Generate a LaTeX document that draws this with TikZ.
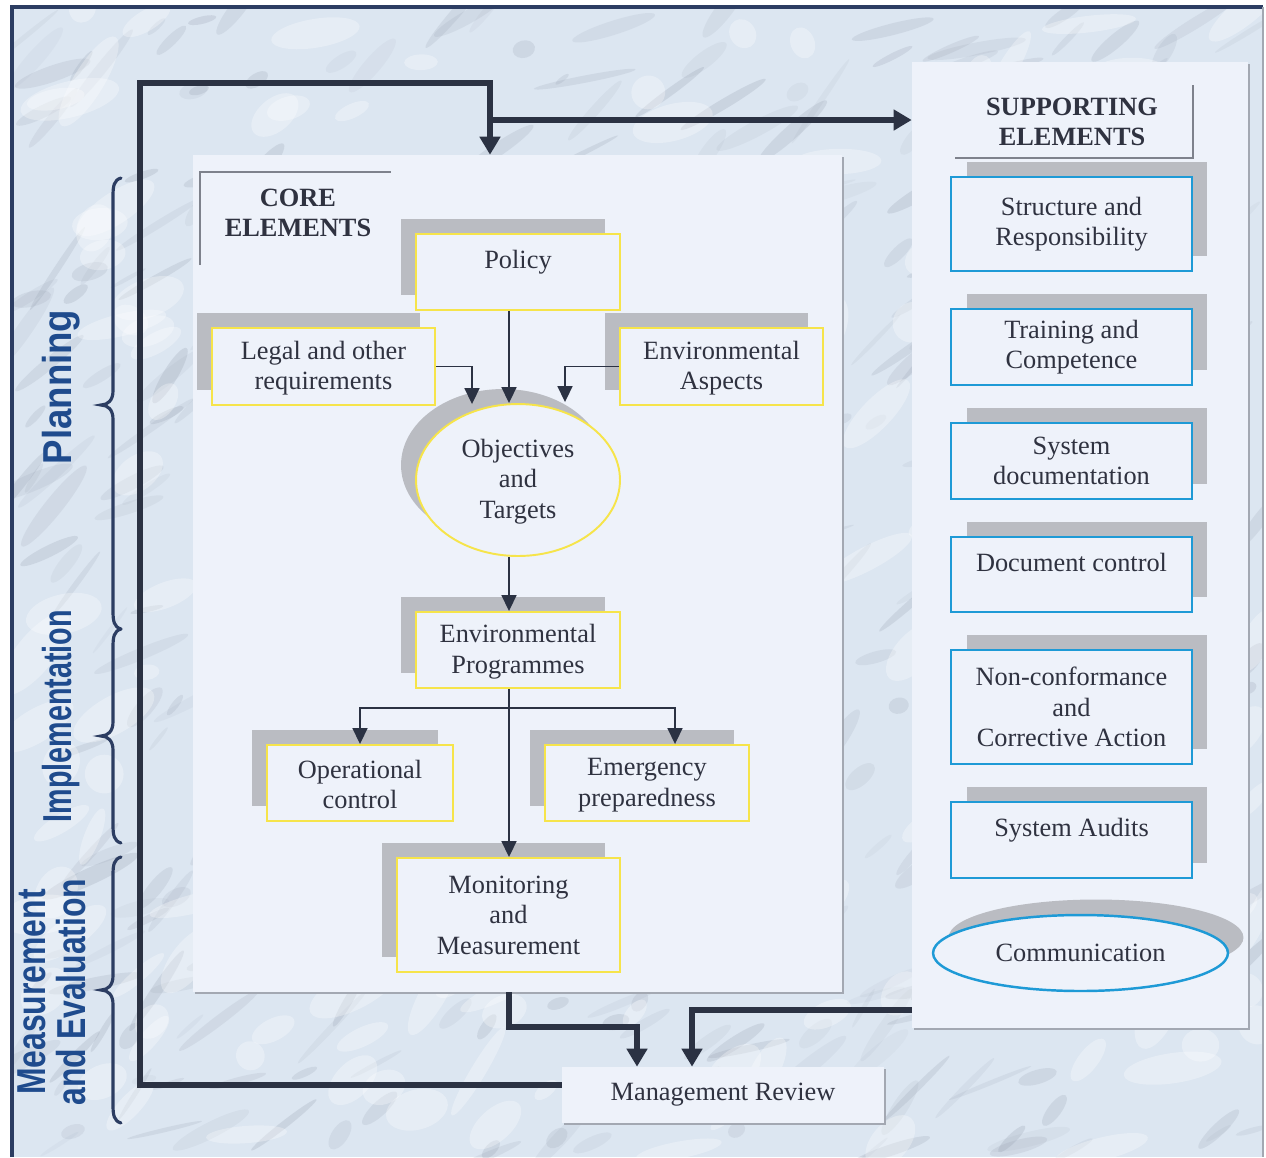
\documentclass[tikz,border=0pt]{standalone}
\usepackage{fontspec}
\setmainfont{Liberation Serif}
\newfontfamily\labelsans{Liberation Sans}
\usetikzlibrary{arrows.meta,shapes.geometric,shadows}

\definecolor{marble}{HTML}{DCE6F1}
\definecolor{streak}{HTML}{8C95A6}
\definecolor{panelfill}{HTML}{EEF2FA}
\definecolor{panelshade}{HTML}{A3A8B2}
\definecolor{speckle}{HTML}{BABCC2}
\definecolor{linedark}{HTML}{2B3243}
\definecolor{framenavy}{HTML}{2C3D62}
\definecolor{boxyellow}{HTML}{F6E44A}
\definecolor{boxblue}{HTML}{1E9AD6}
\definecolor{textgray}{HTML}{2F3240}
\definecolor{phaseblue}{HTML}{1F4B8D}
\definecolor{headline}{HTML}{7E828C}

\newcommand\diagfont{\fontsize{15}{17.3}\selectfont}
\newcommand\phasefont{\labelsans\bfseries\fontsize{23}{20}\selectfont}

\tikzset{
  panel/.style={rectangle, draw=none, fill=panelfill, inner sep=0pt,
    general shadow={fill=panelshade, shadow xshift=0.045cm, shadow yshift=-0.045cm}},
  corebox/.style={rectangle, draw=boxyellow, line width=1.1pt, fill=panelfill,
    text=textgray, align=center, inner sep=0pt, font=\diagfont,
    general shadow={fill=speckle, shadow xshift=-0.3cm, shadow yshift=0.3cm}},
  coreoval/.style={corebox, ellipse},
  supbox/.style={rectangle, draw=boxblue, line width=1.4pt, fill=panelfill,
    text=textgray, align=center, inner sep=0pt, font=\diagfont,
    general shadow={fill=speckle, shadow xshift=0.31cm, shadow yshift=0.31cm}},
  supoval/.style={supbox, ellipse},
  headtext/.style={text=textgray, align=center, font=\diagfont\bfseries},
  headrule/.style={draw=headline, line width=1pt},
  phase/.style={text=phaseblue, font=\phasefont, rotate=90, inner sep=0pt},
  bracepen/.style={draw=framenavy, line width=1.8pt, line cap=round},
  arr/.style={draw=linedark, line width=1pt, -{Triangle[length=0.32cm,width=0.3cm]}},
  flow/.style={draw=linedark, line width=3pt, -{Triangle[length=0.36cm,width=0.4cm]}}
}

\begin{document}
\begin{tikzpicture}[x=0.02cm, y=-0.02cm]
\useasboundingbox (0,0) rectangle (1266,1157);
\fill[white] (0,0) rectangle (1266,1157);

% marbled backdrop: soft grey veins and pale patches
\begin{scope}
  \clip (12,8) rectangle (1263,1157);
  \fill[marble] (12,8) rectangle (1263,1157);
  \pgfmathsetseed{4711}
  \foreach \i in {1,...,420}{
    \pgfmathsetmacro{\mx}{12+1250*rnd}
    \pgfmathsetmacro{\my}{8+1150*rnd}
    \pgfmathsetmacro{\ma}{10+50*rnd}
    \pgfmathsetmacro{\ml}{8+45*rnd}
    \pgfmathsetmacro{\mw}{2+7*rnd}
    \pgfmathsetmacro{\mo}{0.06+0.16*rnd}
    \fill[streak, opacity=\mo, rotate around={\ma:(\mx,\my)}]
      (\mx,\my) ellipse [x radius=\ml, y radius=\mw];
  }
  \foreach \i in {1,...,220}{
    \pgfmathsetmacro{\mx}{12+1250*rnd}
    \pgfmathsetmacro{\my}{8+1150*rnd}
    \pgfmathsetmacro{\ma}{0+70*rnd}
    \pgfmathsetmacro{\ml}{12+40*rnd}
    \pgfmathsetmacro{\mw}{6+14*rnd}
    \fill[white, opacity=0.3, rotate around={\ma:(\mx,\my)}]
      (\mx,\my) ellipse [x radius=\ml, y radius=\mw];
  }
\end{scope}

% outer frame
\draw[framenavy, line width=2.3pt] (12,1157) -- (12,7) -- (1263,7);
\draw[panelshade, line width=0.8pt] (1263,7) -- (1263,1157);

% panels
\node[panel, minimum width=12.98cm, minimum height=16.74cm] (core) at (517.5,573.5) {};
\node[panel, minimum width=6.72cm, minimum height=19.32cm] (support) at (1080,545) {};
\node[panel, minimum width=6.44cm, minimum height=1.12cm, text=textgray, font=\diagfont]
  (mgmt) at (723,1095) {Management Review};

% panel headings
\draw[headrule] (200,265) -- (200,172) -- (391,172);
\node[headtext] (corehead) at (298,213) {CORE\\ELEMENTS};
\draw[headrule] (1193,85) -- (1193,158) -- (955,158);
\node[headtext] (suphead) at (1072,122) {SUPPORTING\\ELEMENTS};

% core elements
\node[corebox, minimum width=4.08cm, minimum height=1.52cm] (policy) at (518,272)
  {\raisebox{2pt}[0pt][0pt]{Policy}};
\node[corebox, minimum width=4.46cm, minimum height=1.54cm] (legal) at (323.5,366.5)
  {\strut Legal and other\\requirements};
\node[corebox, minimum width=4.06cm, minimum height=1.54cm] (aspects) at (721.5,366.5)
  {\strut Environmental\\Aspects};
\node[coreoval, minimum width=4.08cm, minimum height=3.04cm] (objectives) at (518,480)
  {\strut Objectives\\and\\Targets};
\node[corebox, minimum width=4.08cm, minimum height=1.52cm] (programmes) at (518,650)
  {\strut Environmental\\Programmes};
\node[corebox, minimum width=3.72cm, minimum height=1.52cm] (operational) at (360,783)
  {\strut Operational\\control};
\node[corebox, minimum width=4.08cm, minimum height=1.52cm] (emergency) at (647,783)
  {\strut Emergency\\preparedness};
\node[corebox, minimum width=4.46cm, minimum height=2.28cm] (monitoring) at (508.5,915)
  {Monitoring\\and\\Measurement};

% supporting elements
\node[supbox, minimum width=4.82cm, minimum height=1.88cm] (structure) at (1071.5,224)
  {Structure and\\Responsibility};
\node[supbox, minimum width=4.82cm, minimum height=1.52cm] (training) at (1071.5,347)
  {Training and\\Competence};
\node[supbox, minimum width=4.82cm, minimum height=1.52cm] (sysdoc) at (1071.5,461)
  {System\\documentation};
\node[supbox, minimum width=4.82cm, minimum height=1.5cm] (doccontrol) at (1071.5,574.5)
  {\raisebox{2pt}[0pt][0pt]{Document control}};
\node[supbox, minimum width=4.82cm, minimum height=2.28cm] (nonconf) at (1071.5,707)
  {Non-conformance\\and\\Corrective Action};
\node[supbox, minimum width=4.82cm, minimum height=1.52cm] (audits) at (1071.5,840)
  {\raisebox{2pt}[0pt][0pt]{System Audits}};
\node[supoval, minimum width=5.9cm, minimum height=1.52cm] (communication) at (1080.5,953)
  {Communication};

% phase labels and braces
\node[phase] (planlbl) at (61,387) {\scalebox{0.906}[1]{Planning}};
\node[phase] (impllbl) at (61,716) {\scalebox{0.71}[1]{Implementation}};
\node[phase] (measlbl) at (57,992)
  {\scalebox{0.79}[1]{\begin{tabular}{@{}c@{}}Measurement\\and Evaluation\end{tabular}}};

\draw[bracepen] (121,178) .. controls (114,180) and (113,186) .. (113,196)
  -- (113,391) .. controls (113,400) and (108,405) .. (101,405)
  .. controls (108,405) and (113,410) .. (113,419)
  -- (113,611) .. controls (113,621) and (114,627) .. (121,629);
\draw[bracepen] (121,629) .. controls (114,631) and (113,637) .. (113,647)
  -- (113,722) .. controls (113,731) and (108,736) .. (101,736)
  .. controls (108,736) and (113,741) .. (113,750)
  -- (113,825) .. controls (113,835) and (114,841) .. (121,843);
\draw[bracepen] (121,857) .. controls (114,859) and (113,865) .. (113,875)
  -- (113,976) .. controls (113,985) and (108,990) .. (101,990)
  .. controls (108,990) and (113,995) .. (113,1004)
  -- (113,1105) .. controls (113,1115) and (114,1121) .. (121,1123);

% guide coordinates for connector lanes
\coordinate (spine) at (509,0);
\coordinate (legallane) at (472,0);
\coordinate (aspectlane) at (565,0);
\coordinate (emerglane) at (675,0);
\coordinate (split) at (509,708);
\coordinate (loopbottom) at (140,1085);
\coordinate (loopcorner) at (140,83);
\coordinate (looptop) at (490,83);
\coordinate (loopbranch) at (490,120);
\coordinate (monstep) at (637,1027);
\coordinate (supstep) at (692,1010);

% core flow
\draw[arr] (policy.south -| spine) -- (objectives.north -| spine);
\draw[arr] (legal.east) -| ([yshift=-0.02cm]objectives.north -| legallane);
\draw[arr] (aspects.west) -| ([yshift=0.02cm]objectives.north -| aspectlane);
\draw[arr] (objectives.south -| spine) -- (programmes.north -| spine);
\draw[draw=linedark, line width=1pt] (programmes.south -| spine) -- (split);
\draw[arr] (split) -| (operational.north);
\draw[arr] (split) -| (emergency.north -| emerglane);
\draw[arr] (split) -- (monitoring.north -| spine);

% review loop
\draw[flow] (core.south -| spine) |- (monstep) -- (monstep |- mgmt.north);
\draw[flow] (support.west |- supstep) -- (supstep) -- (supstep |- mgmt.north);
\draw[flow] (mgmt.west |- loopbottom) -- (loopbottom) -- (loopcorner) -- (looptop)
  -- (core.north -| looptop);
\draw[flow] (loopbranch) -- (support.west |- loopbranch);
\end{tikzpicture}
\end{document}
